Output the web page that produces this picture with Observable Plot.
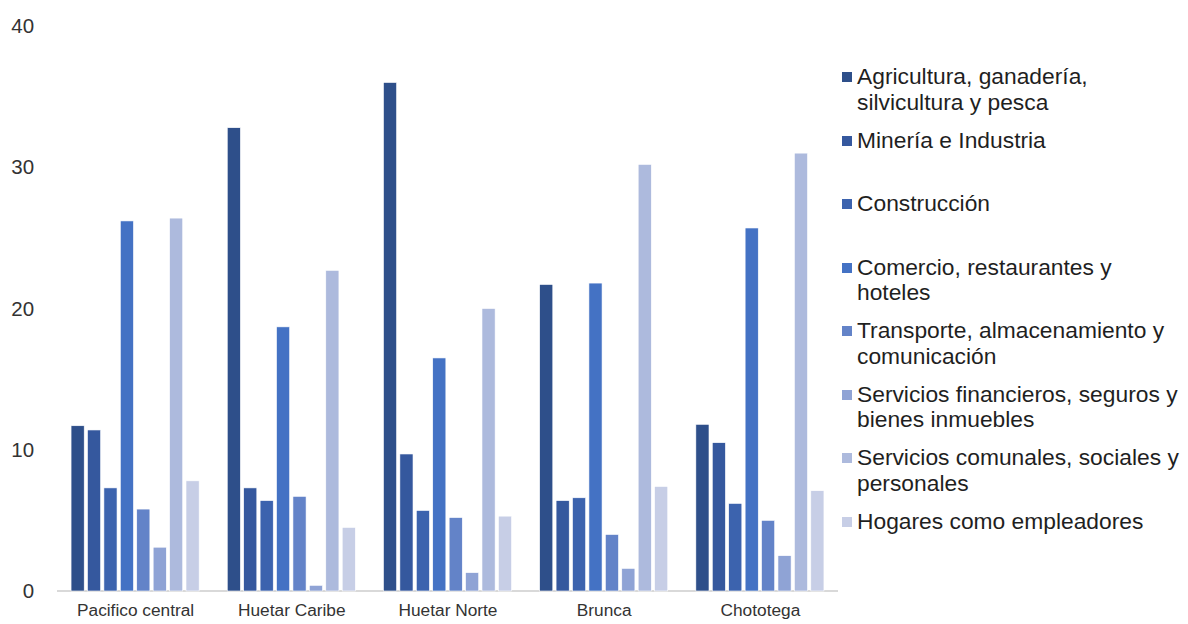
<!DOCTYPE html>
<html>
<head>
<meta charset="utf-8">
<script src="https://cdn.jsdelivr.net/npm/d3@7"></script>
<script src="https://cdn.jsdelivr.net/npm/@observablehq/plot@0.6"></script>
<style>
  html, body { margin: 0; padding: 0; background: #fff; }
  body { width: 1188px; height: 624px; position: relative; overflow: hidden; font-family: "Liberation Sans", Arial, sans-serif; }
  #chart { position: absolute; left: 0; top: 0; }
  #chart svg { font-family: "Liberation Sans", Arial, sans-serif; }
  #legend { position: absolute; left: 842px; top: 64px; }
  .item { height: 63.5px; display: flex; align-items: flex-start; }
  .sw { width: 10px; height: 10px; margin-top: 8px; margin-right: 5px; flex: none; }
  .lab { font-size: 22.8px; line-height: 25.5px; color: #1f1f1f; white-space: pre-line; }
</style>
</head>
<body>
<div id="chart"></div>
<div id="legend"></div>
<script>
const regions = ["Pacifico central", "Huetar Caribe", "Huetar Norte", "Brunca", "Chototega"];
const sectors = [
  "Agricultura, ganadería,\nsilvicultura y pesca",
  "Minería e Industria",
  "Construcción",
  "Comercio, restaurantes y\nhoteles",
  "Transporte, almacenamiento y\ncomunicación",
  "Servicios financieros, seguros y\nbienes inmuebles",
  "Servicios comunales, sociales y\npersonales",
  "Hogares como empleadores"
];
const colors = ["#2E4F8A", "#35589E", "#3C63AE", "#4472C4", "#6383C8", "#8FA3D5", "#ADBADD", "#C7CEE6"];

// values per sector, in region order
const agricultura   = [11.7, 32.8, 36.0, 21.7, 11.8];
const mineria       = [11.4,  7.3,  9.7,  6.4, 10.5];
const construccion  = [ 7.3,  6.4,  5.7,  6.6,  6.2];
const comercio      = [26.2, 18.7, 16.5, 21.8, 25.7];
const transporte    = [ 5.8,  6.7,  5.2,  4.0,  5.0];
const financieros   = [ 3.1,  0.4,  1.3,  1.6,  2.5];
const comunales     = [26.4, 22.7, 20.0, 30.2, 31.0];
const hogares       = [ 7.8,  4.5,  5.3,  7.4,  7.1];
const series = [agricultura, mineria, construccion, comercio, transporte, financieros, comunales, hogares];
const yTicks = [0, 10, 20, 30, 40];

const data = [];
regions.forEach((r, i) => sectors.forEach((s, j) => data.push({region: r, sector: s, value: series[j][i]})));

const W = 838, ML = 57, MR = 0;
const chart = Plot.plot({
  width: W,
  height: 624,
  marginLeft: ML,
  marginRight: MR,
  marginTop: 26,
  marginBottom: 33,
  fx: {domain: regions, paddingInner: 0.18, paddingOuter: 0.09, round: false, axis: null},
  x: {domain: sectors, paddingInner: 0.2, paddingOuter: 0, round: false, axis: null},
  y: {domain: [0, 40], axis: null},
  color: {domain: sectors, range: colors},
  marks: [
    Plot.axisY(yTicks, {anchor: "left", tickSize: 0, tickPadding: 22, dx: -15.5, fontSize: 20.5, fill: "#333", label: null}),
    Plot.axisFx({anchor: "bottom", tickSize: 0, tickPadding: 12, fontSize: 17.3, fill: "#333", label: null}),
    Plot.barY(data, {fx: "region", x: "sector", y: "value", fill: "sector", stroke: "white", strokeWidth: 0.6})
  ]
});
// continuous baseline across all facets, positioned through the y scale
const y0 = chart.scale("y").apply(0);
const base = d3.create("svg:line")
  .attr("x1", ML).attr("x2", W - MR)
  .attr("y1", y0).attr("y2", y0)
  .attr("stroke", "#D9D9D9").attr("stroke-width", 2);
const firstG = chart.querySelector("g");
chart.insertBefore(base.node(), firstG);
document.getElementById("chart").appendChild(chart);

const legend = document.getElementById("legend");
sectors.forEach((s, j) => {
  const item = document.createElement("div");
  item.className = "item";
  const sw = document.createElement("div");
  sw.className = "sw";
  sw.style.background = colors[j];
  const lab = document.createElement("div");
  lab.className = "lab";
  lab.textContent = s;
  item.appendChild(sw);
  item.appendChild(lab);
  legend.appendChild(item);
});
</script>
</body>
</html>
